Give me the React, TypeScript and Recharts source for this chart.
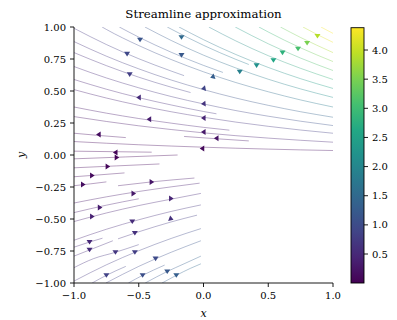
import React from 'react';
import { ComposedChart, Line, Scatter, XAxis, YAxis } from 'recharts';

const xTicks = [-1, -0.5, 0, 0.5, 1];
const yTicks = [-1, -0.75, -0.5, -0.25, 0, 0.25, 0.5, 0.75, 1];
const cbarTicks = [0.5, 1.0, 1.5, 2.0, 2.5, 3.0, 3.5, 4.0];
const speedMin = 0.0025;
const speedMax = 4.383;

// streamlines in the upper half (flow towards the left); pts = [x, y], m = speed at left / right end
const upperLines: { pts: number[][]; m: number[] }[] = [
  { pts: [[-1, .105], [-.75, .092], [-.5, .080], [-.25, .070], [0, .061], [.25, .053], [.5, .046], [.75, .040], [1, .035]], m: [.07, .17] },
  { pts: [[-1, .300], [-.75, .262], [-.5, .228], [-.25, .199], [0, .173], [.25, .151], [.5, .132], [.75, .115], [1, .100]], m: [.2, .5] },
  { pts: [[-1, .511], [-.75, .445], [-.5, .388], [-.25, .338], [0, .295], [.25, .257], [.5, .224], [.75, .195], [1, .170]], m: [.34, .83] },
  { pts: [[-1, .691], [-.75, .602], [-.5, .525], [-.25, .457], [0, .399], [.25, .347], [.5, .303], [.75, .264], [1, .230]], m: [.46, 1.13] },
  { pts: [[-1, .886], [-.75, .772], [-.5, .673], [-.25, .586], [0, .511], [.25, .445], [.5, .388], [.75, .338], [1, .295]], m: [.59, 1.44] },
  { pts: [[-.783, 1], [-.75, .981], [-.5, .855], [-.25, .746], [0, .650], [.25, .566], [.5, .494], [.75, .430], [1, .375]], m: [.82, 1.83] },
  { pts: [[-.452, 1], [-.25, .895], [0, .780], [.25, .680], [.5, .592], [.75, .516], [1, .45]], m: [1.14, 2.2] },
  { pts: [[-.189, 1], [0, .901], [.25, .785], [.5, .684], [.75, .596], [1, .52]], m: [1.49, 2.54] },
  { pts: [[.041, 1], [.25, .891], [.5, .776], [.75, .677], [1, .59]], m: [1.88, 2.89] },
  { pts: [[.245, 1], [.5, .869], [.75, .757], [1, .66]], m: [2.3, 3.23] },
  { pts: [[.428, 1], [.5, .961], [.75, .837], [1, .73]], m: [2.76, 3.57] },
  { pts: [[.594, 1], [.75, .918], [1, .80]], m: [3.26, 3.91] },
  { pts: [[.768, 1], [.88, .94], [1, .88]], m: [3.88, 4.3] },
  { pts: [[.907, 1], [1, .95]], m: [4.3, 4.38] },
  { pts: [[-1, .99], [-.75, .863], [-.5, .752], [-.25, .656], [-.15, .62]], m: [.66, .96] },
  { pts: [[-.65, 1], [-.5, .921], [-.25, .803], [0, .700], [.15, .645]], m: [.94, 1.35] },
  { pts: [[-.28, 1], [-.25, .984], [0, .857], [.25, .747], [.35, .707]], m: [1.36, 1.8] },
  { pts: [[-1, .80], [-.75, .698], [-.5, .608], [-.25, .530], [-.1, .488]], m: [.53, .79] },
  { pts: [[-1, .59], [-.75, .514], [-.5, .448], [-.25, .391], [0, .340], [.1, .322]], m: [.39, .64] },
  { pts: [[-1, .375], [-.75, .327], [-.5, .285], [-.25, .249], [0, .216], [.2, .194]], m: [.25, .43] },
  { pts: [[-1, .17], [-.8, .152], [-.6, .136]], m: [.11, .13] },
  { pts: [[-1, .03], [-.7, .026], [-.4, .022]], m: [.02, .03] },
  { pts: [[-.15, .145], [.1, .127], [.35, .11]], m: [.22, .28] },
];

// streamlines in the lower-left part (flow towards the right)
const lowerLines: { pts: number[][]; m: number[] }[] = [
  { pts: [[-1, -.03], [-.6, -.015], [-.2, 0.0]], m: [.02, .03] },
  { pts: [[-1, -.10], [-.67, -.085], [-.34, -.07]], m: [.07, .09] },
  { pts: [[-1, -.17], [-.8, -.155], [-.61, -.14]], m: [.11, .14] },
  { pts: [[-1, -.24], [-.87, -.225], [-.75, -.21]], m: [.16, .17] },
  { pts: [[-.66, -.24], [-.4, -.21], [-.07, -.18]], m: [.22, .3] },
  { pts: [[-1, -.375], [-.75, -.327], [-.5, -.285], [-.25, -.249], [-.03, -.22]], m: [.25, .38] },
  { pts: [[-1, -.45], [-.75, -.392], [-.5, -.342]], m: [.3, .37] },
  { pts: [[-1, -.52], [-.75, -.453], [-.5, -.395], [-.25, -.345], [-.02, -.30]], m: [.34, .53] },
  { pts: [[-1, -.666], [-.75, -.58], [-.5, -.506], [-.25, -.441], [-.02, -.39]], m: [.44, .69] },
  { pts: [[-.66, -.655], [-.5, -.60], [-.25, -.523], [-.05, -.47]], m: [.61, .8] },
  { pts: [[-1, -.72], [-.88, -.68], [-.78, -.65]], m: [.48, .58] },
  { pts: [[-1, -.79], [-.85, -.73], [-.7, -.67]], m: [.52, .6] },
  { pts: [[-1, -.88], [-.85, -.81], [-.68, -.76], [-.5, -.70]], m: [.58, .76] },
  { pts: [[-1, -.985], [-.75, -.858], [-.5, -.748], [-.25, -.652], [-.02, -.575]], m: [.65, 1.01] },
  { pts: [[-.753, -1], [-.5, -.87], [-.25, -.76], [-.02, -.67]], m: [.85, 1.18] },
  { pts: [[-.86, -1], [-.75, -.94], [-.6, -.87]], m: [.76, .86] },
  { pts: [[-.58, -1], [-.47, -.94], [-.3, -.86]], m: [1.01, 1.15] },
  { pts: [[-.45, -1], [-.28, -.91], [-.15, -.85], [-.02, -.79]], m: [1.15, 1.39] },
  { pts: [[-.32, -1], [-.21, -.94], [-.1, -.885], [-.02, -.85]], m: [1.3, 1.5] },
];

// arrow heads: position, screen angle of the tip (deg), speed
const upperArrows = [
  { x: -0.49, y: 0.90, a: 90, m: 1.15 },
  { x: -0.17, y: 0.92, a: 90, m: 1.5 },
  { x: -0.59, y: 0.79, a: 90, m: 0.95 },
  { x: -0.17, y: 0.78, a: 90, m: 1.2 },
  { x: -0.57, y: 0.63, a: 90, m: 0.8 },
  { x: 0.07, y: 0.61, a: 160, m: 1.3 },
  { x: -0.50, y: 0.45, a: 180, m: 0.55 },
  { x: 0.00, y: 0.52, a: 170, m: 0.9 },
  { x: -0.42, y: 0.28, a: 180, m: 0.35 },
  { x: 0.00, y: 0.40, a: 175, m: 0.65 },
  { x: -0.81, y: 0.16, a: 180, m: 0.15 },
  { x: 0.00, y: 0.29, a: 180, m: 0.45 },
  { x: 0.00, y: 0.18, a: 180, m: 0.3 },
  { x: 0.10, y: 0.13, a: 180, m: 0.22 },
  { x: -0.01, y: 0.05, a: 180, m: 0.1 },
  { x: -0.68, y: 0.02, a: 180, m: 0.05 },
  { x: 0.28, y: 0.65, a: 90, m: 1.9 },
  { x: 0.41, y: 0.70, a: 90, m: 2.2 },
  { x: 0.54, y: 0.74, a: 90, m: 2.6 },
  { x: 0.61, y: 0.80, a: 90, m: 2.8 },
  { x: 0.73, y: 0.83, a: 90, m: 3.1 },
  { x: 0.80, y: 0.875, a: 90, m: 3.5 },
  { x: 0.88, y: 0.93, a: 90, m: 3.9 },
];
const lowerArrows = [
  { x: -0.67, y: -0.02, a: 0, m: 0.03 },
  { x: -0.74, y: -0.09, a: 0, m: 0.08 },
  { x: -0.86, y: -0.16, a: 0, m: 0.12 },
  { x: -0.93, y: -0.23, a: 0, m: 0.16 },
  { x: -0.40, y: -0.21, a: 0, m: 0.25 },
  { x: -0.54, y: -0.30, a: 0, m: 0.3 },
  { x: -0.25, y: -0.34, a: 0, m: 0.45 },
  { x: -0.80, y: -0.41, a: 0, m: 0.35 },
  { x: -0.86, y: -0.48, a: 0, m: 0.4 },
  { x: -0.55, y: -0.52, a: 90, m: 0.55 },
  { x: -0.25, y: -0.50, a: 20, m: 0.6 },
  { x: -0.53, y: -0.61, a: 90, m: 0.6 },
  { x: -0.88, y: -0.68, a: 90, m: 0.5 },
  { x: -0.88, y: -0.74, a: 90, m: 0.55 },
  { x: -0.68, y: -0.76, a: 90, m: 0.7 },
  { x: -0.53, y: -0.76, a: 90, m: 0.8 },
  { x: -0.37, y: -0.81, a: 90, m: 1.0 },
  { x: -0.75, y: -0.94, a: 90, m: 0.85 },
  { x: -0.47, y: -0.94, a: 90, m: 1.05 },
  { x: -0.28, y: -0.91, a: 90, m: 1.2 },
  { x: -0.21, y: -0.94, a: 90, m: 1.3 },
];

const VIR = ['#440154', '#482475', '#414487', '#355f8d', '#2a788e', '#21918c', '#22a884', '#44bf70', '#7ad151', '#bddf26', '#fde725'];
function hexToRgb(h: string) {
  return [parseInt(h.slice(1, 3), 16), parseInt(h.slice(3, 5), 16), parseInt(h.slice(5, 7), 16)];
}
function viridisT(t: number) {
  t = Math.max(0, Math.min(1, t));
  const s = t * 10;
  const i = Math.min(9, Math.floor(s));
  const f = s - i;
  const a = hexToRgb(VIR[i]);
  const b = hexToRgb(VIR[i + 1]);
  const c = a.map((v, k) => Math.round(v + (b[k] - v) * f));
  return `rgb(${c[0]},${c[1]},${c[2]})`;
}
function viridis(v: number) {
  return viridisT((v - speedMin) / (speedMax - speedMin));
}

const allLines = [...upperLines, ...lowerLines];
const allArrows = [...upperArrows, ...lowerArrows];

const W = 397;
const H = 320;
const PL = 74, PR = 333, PT = 27, PB = 283;
const font = 'DejaVu Serif';

const Arrow = (props: any) => {
  const { cx, cy, payload } = props;
  if (cx == null || cy == null) return null;
  const ang = (payload.a * Math.PI) / 180;
  const L = 4.6, Wd = 3.0;
  const dx = Math.cos(ang), dy = Math.sin(ang);
  const tx = cx + dx * L * 0.55, ty = cy + dy * L * 0.55;
  const bx = cx - dx * L * 0.45, by = cy - dy * L * 0.45;
  const p1x = bx - dy * Wd, p1y = by + dx * Wd;
  const p2x = bx + dy * Wd, p2y = by - dx * Wd;
  return (
    <polygon
      points={`${tx},${ty} ${p1x},${p1y} ${p2x},${p2y}`}
      fill={viridis(payload.m)}
      stroke="none"
    />
  );
};

const fmtY = (v: number) => (v < 0 ? '\u2212' : '') + Math.abs(v).toFixed(2);
const fmtX = (v: number) => (v < 0 ? '\u2212' : '') + Math.abs(v).toFixed(1);

export default function App() {
  const cbTop = 27.7, cbBot = 283, cbX = 351, cbW = 13;
  const cbY = (v: number) => cbBot - ((v - speedMin) / (speedMax - speedMin)) * (cbBot - cbTop);
  return (
    <div style={{ position: 'absolute', left: 0, top: 0, width: W, height: H, background: '#fff' }}>
      <ComposedChart width={W} height={H} margin={{ top: PT, right: W - PR, bottom: 0, left: 0 }}>
        <defs>
          {allLines.map((l, i) => (
            <linearGradient key={i} id={`sg${i}`} x1="0" y1="0" x2="1" y2="0">
              <stop offset="0%" stopColor={viridis(l.m[0])} />
              <stop offset="100%" stopColor={viridis(l.m[1])} />
            </linearGradient>
          ))}
        </defs>
        <XAxis
          dataKey="x"
          type="number"
          domain={[-1, 1]}
          ticks={xTicks}
          tickFormatter={fmtX}
          allowDataOverflow
          height={H - PB}
          tickSize={4}
          tickMargin={5}
          axisLine={{ stroke: '#000', strokeWidth: 0.9 }}
          tickLine={{ stroke: '#000', strokeWidth: 0.9 }}
          tick={{ fontFamily: font, fontSize: 10, fill: '#000' }}
        />
        <XAxis
          xAxisId="top"
          orientation="top"
          type="number"
          domain={[-1, 1]}
          height={0}
          tick={false}
          tickLine={false}
          axisLine={{ stroke: '#000', strokeWidth: 0.9 }}
        />
        <YAxis
          dataKey="y"
          type="number"
          domain={[-1, 1]}
          ticks={yTicks}
          tickFormatter={fmtY}
          allowDataOverflow
          width={PL}
          tickSize={4}
          tickMargin={4}
          axisLine={{ stroke: '#000', strokeWidth: 0.9 }}
          tickLine={{ stroke: '#000', strokeWidth: 0.9 }}
          tick={{ fontFamily: font, fontSize: 10, fill: '#000' }}
        />
        <YAxis
          yAxisId="right"
          orientation="right"
          type="number"
          domain={[-1, 1]}
          width={0}
          tick={false}
          tickLine={false}
          axisLine={{ stroke: '#000', strokeWidth: 0.9 }}
        />
        {allLines.map((l, i) => (
          <Line
            key={`l${i}`}
            data={l.pts.map((p) => ({ x: p[0], y: p[1] }))}
            dataKey="y"
            type="monotone"
            stroke={`url(#sg${i})`}
            strokeWidth={0.75}
            strokeOpacity={0.5}
            dot={false}
            activeDot={false}
            isAnimationActive={false}
          />
        ))}
        <Scatter data={allArrows} dataKey="y" shape={Arrow} isAnimationActive={false} />
      </ComposedChart>
      <svg width={W} height={H} style={{ position: 'absolute', left: 0, top: 0, pointerEvents: 'none' }}>
        <defs>
          <linearGradient id="cbar" x1="0" y1="1" x2="0" y2="0">
            {VIR.map((c, i) => (
              <stop key={i} offset={`${i * 10}%`} stopColor={c} />
            ))}
          </linearGradient>
        </defs>
        <text x={(PL + PR) / 2} y={18} textAnchor="middle" fontFamily={font} fontSize={11.8} fill="#000">
          Streamline approximation
        </text>
        <text x={(PL + PR) / 2} y={317} textAnchor="middle" fontFamily={font} fontStyle="italic" fontSize={11} fill="#000">
          x
        </text>
        <text x={0} y={0} transform={`translate(25,${(PT + PB) / 2}) rotate(-90)`} textAnchor="middle" fontFamily={font} fontStyle="italic" fontSize={11} fill="#000">
          y
        </text>
        <rect x={cbX} y={cbTop} width={cbW} height={cbBot - cbTop} fill="url(#cbar)" stroke="#000" strokeWidth={0.9} />
        {cbarTicks.map((t) => (
          <g key={t}>
            <line x1={cbX + cbW} x2={cbX + cbW + 4} y1={cbY(t)} y2={cbY(t)} stroke="#000" strokeWidth={0.9} />
            <text x={cbX + cbW + 8} y={cbY(t)} dy="0.355em" fontFamily={font} fontSize={10} fill="#000">
              {t.toFixed(1)}
            </text>
          </g>
        ))}
      </svg>
    </div>
  );
}
